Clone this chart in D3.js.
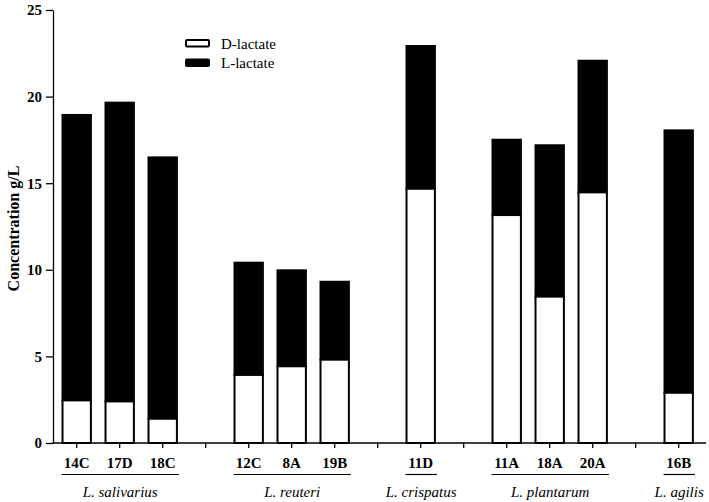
<!DOCTYPE html>
<html>
<head>
<meta charset="utf-8">
<script src="https://cdn.jsdelivr.net/npm/d3@7"></script>
<style>
  body { margin: 0; background: #fff; }
  svg text { font-family: "Liberation Serif", "DejaVu Serif", "Times New Roman", Times, serif !important; }
</style>
</head>
<body>
<script>
// values (g/L)
var strains = ["14C", "17D", "18C", "12C", "8A", "19B", "11D", "11A", "18A", "20A", "16B"];
var dLactate = [2.46, 2.4, 1.4, 3.93, 4.43, 4.81, 14.68, 13.16, 8.45, 14.47, 2.9];
var lLactate = [16.48, 17.25, 15.09, 6.48, 5.54, 4.5, 8.24, 4.35, 8.74, 7.6, 15.15];
var groupNames = ["L. salivarius", "L. reuteri", "L. crispatus", "L. plantarum", "L. agilis"];
var groupOf = [0, 0, 0, 1, 1, 1, 2, 3, 3, 3, 4];
var yTicks = [0, 5, 10, 15, 20, 25];
var seriesNames = ["D-lactate", "L-lactate"];

var w = 709, h = 502;
var svg = d3.select("body").append("svg").attr("width", w).attr("height", h);

// slots on the x axis: one per strain, an empty one between groups
var slots = [];
strains.forEach(function(s, i) {
  if (i > 0 && groupOf[i] != groupOf[i - 1]) slots.push("gap" + i);
  slots.push(s);
});

var x = d3.scaleBand().domain(slots).range([55.2, 700.2]).paddingInner(0.34).paddingOuter(0.17);
var y = d3.scaleLinear().domain([0, 25]).range([443, 10]);

var rows = strains.map(function(s, i) { return { strain: s, d: dLactate[i], l: lLactate[i] }; });

// bars: white D part at the bottom, black L part on top
var bar = svg.selectAll(".bar").data(rows).enter().append("g").attr("class", "bar");
bar.append("rect")
  .attr("x", function(r) { return x(r.strain); })
  .attr("y", function(r) { return y(r.d + r.l); })
  .attr("width", x.bandwidth())
  .attr("height", function(r) { return y(r.d) - y(r.d + r.l); })
  .attr("fill", "#000").attr("stroke", "#000").attr("stroke-width", 2);
bar.append("rect")
  .attr("x", function(r) { return x(r.strain); })
  .attr("y", function(r) { return y(r.d); })
  .attr("width", x.bandwidth())
  .attr("height", function(r) { return y(0) - y(r.d); })
  .attr("fill", "#fff").attr("stroke", "#000").attr("stroke-width", 2);

// y axis
var yAxis = svg.append("g").attr("transform", "translate(53,0)")
  .call(d3.axisLeft(y).tickValues(yTicks).tickSize(7).tickSizeOuter(0).tickPadding(4));
yAxis.select(".domain").attr("stroke-width", 1.3);
yAxis.selectAll(".tick line").attr("stroke-width", 1.3);
yAxis.selectAll("text").attr("font-size", 15).attr("font-weight", "bold").attr("fill", "#000");

// x axis
var xAxis = svg.append("g").attr("transform", "translate(0,443)")
  .call(d3.axisBottom(x).tickSize(5).tickPadding(9)
    .tickFormat(function(s) { return s.indexOf("gap") == 0 ? "" : s; }));
xAxis.select(".domain").remove();
xAxis.selectAll(".tick line").attr("stroke-width", 1.3);
xAxis.selectAll("text").attr("font-size", 15).attr("font-weight", "bold").attr("fill", "#000");
svg.append("line").attr("x1", 52.5).attr("x2", 706).attr("y1", 443).attr("y2", 443)
  .attr("stroke", "#000").attr("stroke-width", 1.3);

// group underlines and names
groupNames.forEach(function(g, gi) {
  var members = strains.filter(function(s, i) { return groupOf[i] == gi; });
  var x0 = x(members[0]) - 1;
  var x1 = x(members[members.length - 1]) + x.bandwidth() + 2;
  svg.append("line").attr("x1", x0).attr("x2", x1).attr("y1", 474.5).attr("y2", 474.5)
    .attr("stroke", "#000").attr("stroke-width", 1.2);
  svg.append("text").attr("x", (x0 + x1) / 2).attr("y", 497)
    .attr("text-anchor", "middle").attr("font-size", 15).attr("font-style", "italic")
    .text(g);
});

// y title
svg.append("text")
  .attr("transform", "translate(19," + (y(12.5) + 2) + ") rotate(-90)")
  .attr("text-anchor", "middle").attr("font-size", 16).attr("font-weight", "bold")
  .text("Concentration g/L");

// legend
var legend = svg.selectAll(".legend").data(seriesNames).enter().append("g")
  .attr("class", "legend")
  .attr("transform", function(d, i) { return "translate(186," + (40 + i * 19.5) + ")"; });
legend.append("rect").attr("width", 23).attr("height", 6.5).attr("rx", 1)
  .attr("fill", function(d, i) { return i == 0 ? "#fff" : "#000"; })
  .attr("stroke", "#000").attr("stroke-width", 2);
legend.append("text").attr("x", 35).attr("y", 8.5).attr("font-size", 15)
  .text(function(d) { return d; });
</script>
</body>
</html>
